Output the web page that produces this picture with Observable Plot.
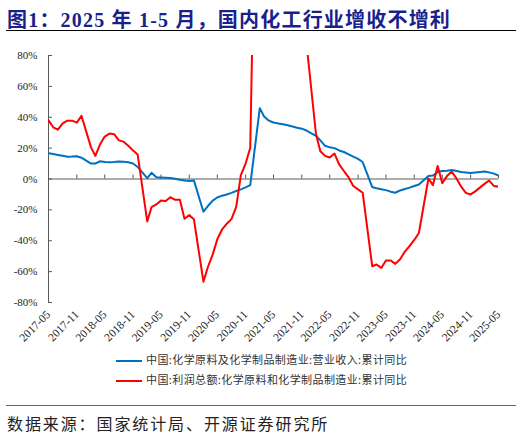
<!DOCTYPE html>
<html>
<head>
<meta charset="utf-8">
<script src="https://cdn.jsdelivr.net/npm/d3@7"></script>
<script src="https://cdn.jsdelivr.net/npm/@observablehq/plot@0.6"></script>
<style>
  body { margin: 0; background: #fff; }
  #wrap { position: relative; width: 522px; height: 436px; overflow: hidden; }
  #title {
    position: absolute; left: 7px; top: 4px;
    font-family: "Liberation Serif", "Noto Sans CJK SC", serif;
    font-weight: bold; font-size: 20px; letter-spacing: 1.2px; color: #1a1f8c; white-space: nowrap;
  }
  .hline { position: absolute; left: 6px; width: 510px; }
  #chart { position: absolute; left: 0; top: 40px; }
  .leg { position: absolute; left: 116px; font-family: "Noto Sans CJK SC", sans-serif;
    font-size: 11px; color: #333; white-space: nowrap; letter-spacing: 0.4px; }
  .leg span { display: inline-block; width: 26px; height: 2px; vertical-align: middle; margin-right: 4px; }
  #source { position: absolute; left: 7px; top: 411px; font-family: "Noto Sans CJK SC", sans-serif;
    font-size: 16px; letter-spacing: 1.9px; color: #222; white-space: nowrap; }
</style>
</head>
<body>
<div id="wrap">
  <div id="title">图1：2025 年 1-5 月，国内化工行业增收不增利</div>
  <div class="hline" style="top:30px;border-top:1.5px solid #000"></div>
  <div id="chart"></div>
  <div class="leg" style="top:351px"><span style="background:#0070c0"></span>中国:化学原料及化学制品制造业:营业收入:累计同比</div>
  <div class="leg" style="top:371px"><span style="background:#ff0000"></span>中国:利润总额:化学原料和化学制品制造业:累计同比</div>
  <div class="hline" style="top:405px;border-top:1.5px solid #666"></div>
  <div id="source">数据来源：国家统计局、开源证券研究所</div>
</div>
<script>
// months (no January figures: Jan-Feb are reported together)
const months = [
  "2017-05","2017-06","2017-07","2017-08","2017-09","2017-10","2017-11","2017-12",
  "2018-02","2018-03","2018-04","2018-05","2018-06","2018-07","2018-08","2018-09","2018-10","2018-11","2018-12",
  "2019-02","2019-03","2019-04","2019-05","2019-06","2019-07","2019-08","2019-09","2019-10","2019-11","2019-12",
  "2020-02","2020-03","2020-04","2020-05","2020-06","2020-07","2020-08","2020-09","2020-10","2020-11","2020-12",
  "2021-02","2021-03","2021-04","2021-05","2021-06","2021-07","2021-08","2021-09","2021-10","2021-11","2021-12",
  "2022-02","2022-03","2022-04","2022-05","2022-06","2022-07","2022-08","2022-09","2022-10","2022-11","2022-12",
  "2023-02","2023-03","2023-04","2023-05","2023-06","2023-07","2023-08","2023-09","2023-10","2023-11","2023-12",
  "2024-02","2024-03","2024-04","2024-05","2024-06","2024-07","2024-08","2024-09","2024-10","2024-11","2024-12",
  "2025-02","2025-03","2025-04","2025-05"
];

// 营业收入 累计同比 (%)
const revenue = [
  16.7, 16.2, 15.6, 15.0, 14.4, 14.5, 14.7, 13.8,
  10.0, 10.0, 11.5, 11.0, 10.8, 11.0, 11.3, 11.2, 10.8, 10.0, 7.8,
  0.5, 4.0, 1.2, 1.0, 0.8, 0.6, 0.2, -0.5, -1.0, -1.3, -0.9,
  -21.2, -17.5, -14.0, -12.0, -10.8, -10.0, -9.0, -7.8, -6.7, -5.4, -4.0,
  45.9, 40.5, 37.8, 36.6, 36.0, 35.4, 34.8, 34.0, 33.2, 32.6, 31.4,
  28.0, 25.0, 21.5, 20.5, 20.0, 18.5, 17.5, 16.0, 14.5, 13.0, 11.0,
  -5.2, -6.0, -6.7, -7.2, -8.2, -8.9, -7.4, -6.5, -5.6, -4.5, -3.6,
  2.0, 2.2, 4.5, 5.2, 5.4, 5.8, 5.2, 4.5, 4.2, 3.9, 4.2,
  4.8, 4.3, 3.5, 2.2
];

// 利润总额 累计同比 (%), 2021 runs far above the 80% edge
const profit = [
  38.0, 33.5, 32.0, 36.0, 37.8, 37.8, 36.5, 41.0,
  20.5, 15.0, 22.5, 27.5, 29.4, 29.0, 25.0, 24.2, 21.5, 18.5, 15.8,
  -27.5, -18.2, -16.5, -14.0, -14.2, -11.8, -13.5, -13.5, -25.8, -23.4, -26.0,
  -66.5, -57.0, -49.0, -39.0, -32.7, -29.0, -26.0, -18.0, 2.5, 10.0, 20.3,
  350, 300, 250, 210, 180, 160, 140, 125, 110, 98, 88,
  29.0, 18.0, 15.0, 13.9, 16.5, 9.5, 5.2, 1.0, -4.5, -6.7, -8.9,
  -56.5, -55.4, -57.6, -52.8, -52.8, -55.0, -52.0, -47.0, -43.5, -39.5, -35.0,
  0.3, -4.0, 8.4, -2.8, 2.0, 4.8, 0.4, -5.0, -9.0, -10.0, -8.0,
  -3.0, -1.0, -4.5, -5.0
];

const tickLabels = ["2017-05","2017-11","2018-05","2018-11","2019-05","2019-11","2020-05","2020-11",
  "2021-05","2021-11","2022-05","2022-11","2023-05","2023-11","2024-05","2024-11","2025-05"];
const yTicks = [-80, -60, -40, -20, 0, 20, 40, 60, 80];

const parse = d3.utcParse("%Y-%m");
const rows = months.map((m, i) => ({date: parse(m), revenue: revenue[i], profit: profit[i]}));
const tickDates = tickLabels.map(parse);
const x0 = rows[0].date;

const chart = Plot.plot({
  width: 522,
  height: 310,
  marginTop: 15,
  marginBottom: 48,
  marginLeft: 48,
  marginRight: 24,
  style: {fontFamily: "'Liberation Serif', serif", fontSize: "11px", color: "#222", background: "#fff"},
  x: {type: "utc", domain: [x0, rows[rows.length - 1].date]},
  y: {domain: [-80, 80]},
  marks: [
    Plot.axisY({ticks: yTicks, tickFormat: d => d + "%", tickSize: 0, tickPadding: 11, fontSize: 11}),
    Plot.axisX({ticks: tickDates, tickFormat: d3.utcFormat("%Y-%m"), tickRotate: -45,
      tickSize: 0, tickPadding: 10, fontSize: 11.5}),
    Plot.ruleX([x0], {stroke: "#595959", strokeWidth: 1}),
    Plot.ruleY(yTicks, {x1: x0, x2: x0, insetRight: -4, stroke: "#595959"}),
    Plot.ruleY([0], {stroke: "#595959", strokeWidth: 1}),
    Plot.ruleX(tickDates, {y1: 0, y2: 0, insetTop: -4, stroke: "#595959"}),
    Plot.lineY(rows, {x: "date", y: "revenue", stroke: "#0070c0", strokeWidth: 2, clip: true}),
    Plot.lineY(rows, {x: "date", y: "profit", stroke: "#ff0000", strokeWidth: 2, clip: true})
  ]
});
document.querySelector("#chart").append(chart);
</script>
</body>
</html>
